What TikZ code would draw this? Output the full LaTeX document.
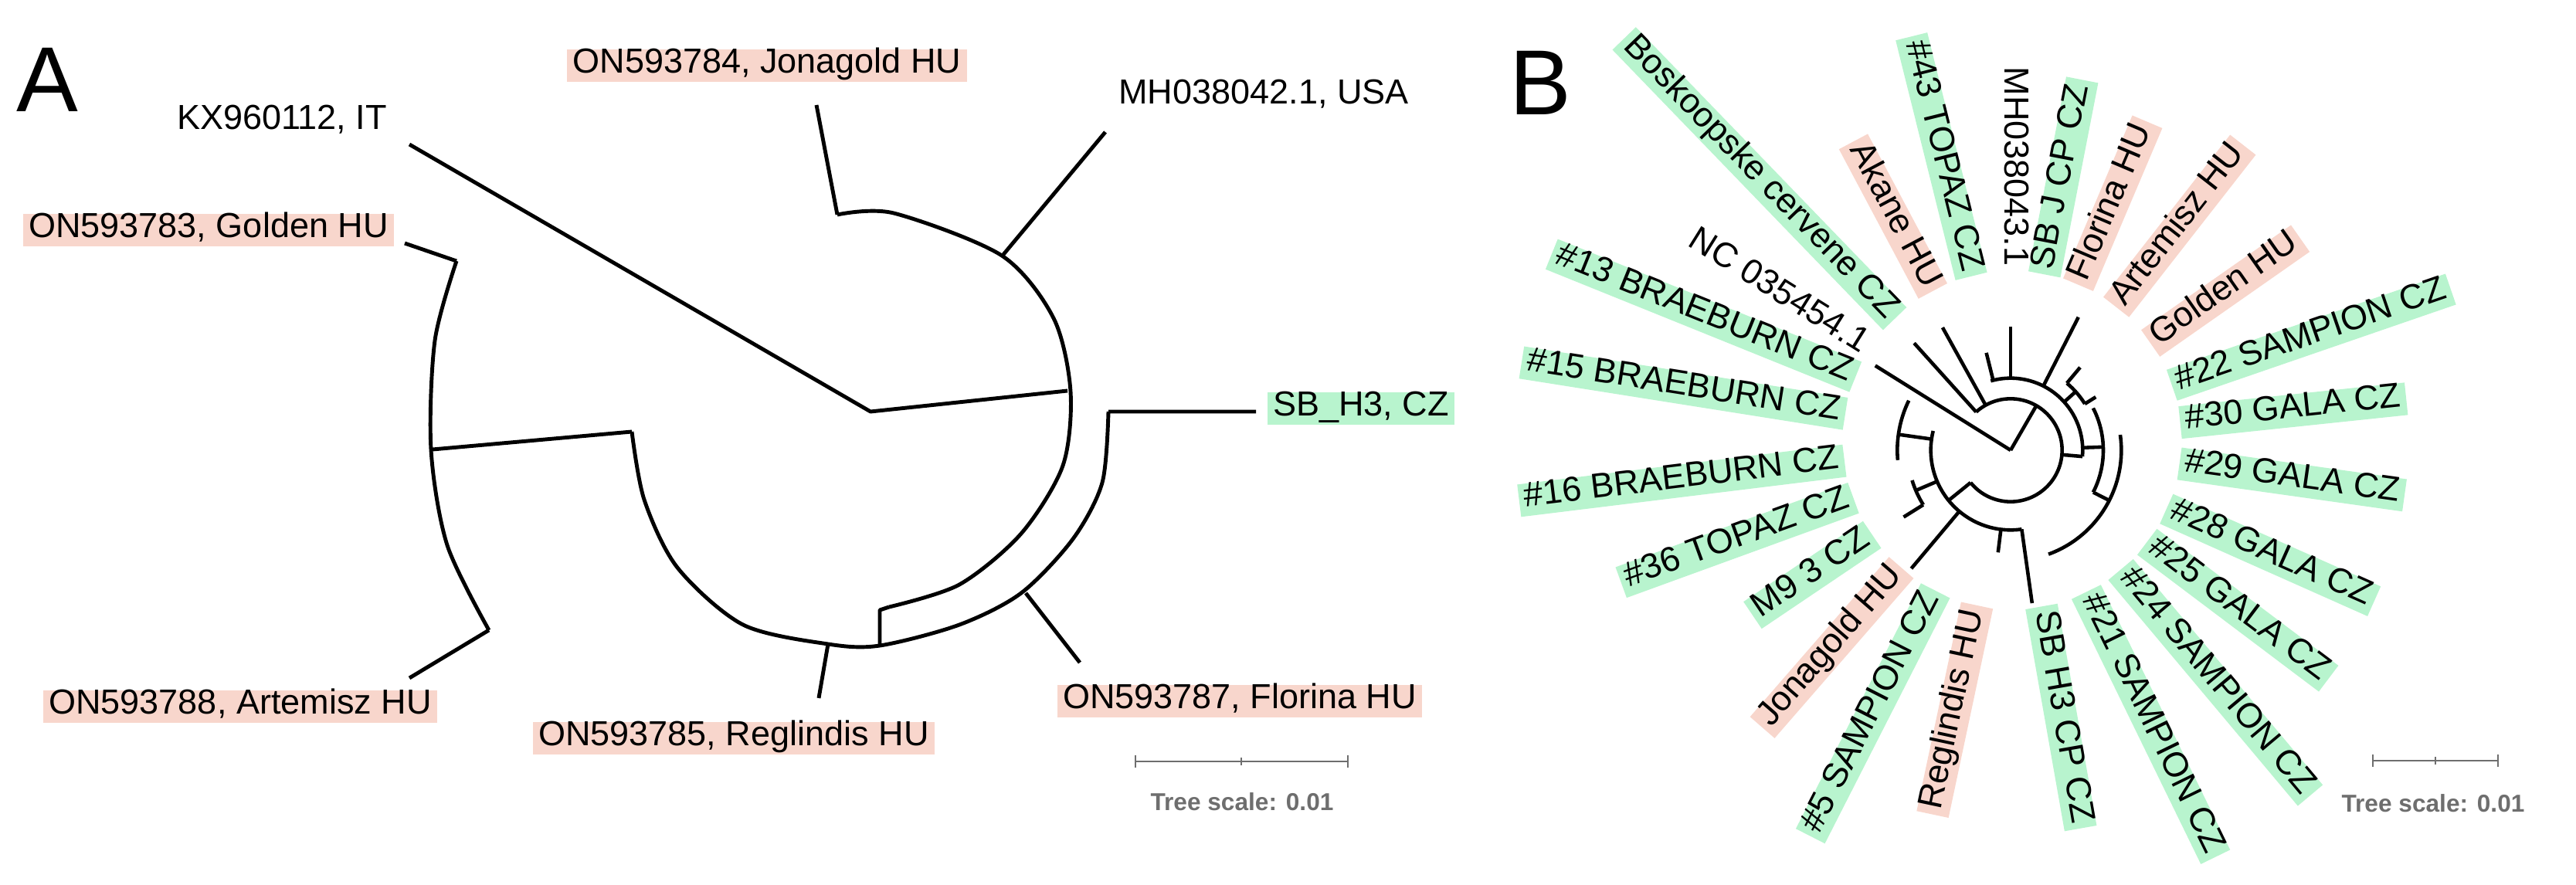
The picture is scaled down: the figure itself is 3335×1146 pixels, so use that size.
\documentclass[tikz,border=0pt]{standalone}
\usepackage{fontspec}
\setmainfont{Liberation Sans}
\definecolor{pk}{RGB}{248,214,204}
\definecolor{gr}{RGB}{184,244,206}
\definecolor{sc}{RGB}{110,110,110}
\begin{document}
\begin{tikzpicture}[x=0.01cm,y=-0.01cm,
  br/.style={line width=1.4pt,line join=round},
  lab/.style={font=\fontsize{12.8}{14}\selectfont,inner xsep=2pt,inner ysep=1.2pt,text height=0.74em,text depth=0.22em},
  P/.style={lab,fill=pk},G/.style={lab,fill=gr},N/.style={lab},
  R/.style={anchor=west,rotate=#1},L/.style={anchor=east,rotate=#1},
  big/.style={font=\fontsize{34}{36}\selectfont,inner sep=0pt},
  ts/.style={font=\fontsize{9}{10}\selectfont\bfseries,text=sc}]
\useasboundingbox (0,0) rectangle (3335,1146);
% ---------- Panel A ----------
\node[big] (A) at (61,103) {A};
\draw[br] (530,187) -- (1127,533) -- (1382,506);
\draw[br] (1057,136) -- (1084,278) plot[smooth] coordinates {(1084,278) (1157,276) (1297,331) (1364,412) (1386,507) (1376,603) (1322,691) (1242,757) (1151,786)};
\draw[br] (1151,786) -- (1139,790) -- (1139,834);
\draw[br] (1431,171) -- (1297,332);
\draw[br] (1626,533) -- (1435,533) plot[smooth] coordinates {(1435,533) (1427,625) (1389,698) (1322,768) (1242,809) (1139,836) (1072,834) (962,809) (877,735) (834,647) (818,559)};
\draw[br] (818,559) -- (560,582);
\draw[br] (1328,768) -- (1398,858);
\draw[br] (1072,834) -- (1060,904);
\draw[br] (524,315) -- (591,338) plot[smooth] coordinates {(591,338) (563,441) (558,582) (579,706) (633,816)};
\draw[br] (633,816) -- (530,878);
\node[P] (a1) at (993,85) {ON593784, Jonagold HU};
\node[N] (a2) at (1636,125) {MH038042.1, USA};
\node[N] (a3) at (365,158) {KX960112, IT};
\node[P] (a4) at (270,298) {ON593783, Golden HU};
\node[G] (a5) at (1762,529) {SB\_H3, CZ};
\node[P] (a6) at (311,915) {ON593788, Artemisz HU};
\node[P] (a7) at (950,956) {ON593785, Reglindis HU};
\node[P] (a8) at (1605,908) {ON593787, Florina HU};
\coordinate (sa1) at (1470,986); \coordinate (sa2) at (1745,986);
\draw[sc,line width=0.8pt] (sa1) -- (sa2);
\draw[sc,line width=0.8pt] (1470,978) -- (1470,994) (1607,981) -- (1607,991) (1745,978) -- (1745,994);
\node[ts] (tsa) at (1608,1038) {Tree scale: 0.01};
% ---------- Panel B ----------
\node[big] (B) at (1994,107) {B};
\begin{scope}[shift={(2603,583)},yscale=-1,scale=1/3,br/.style={line width=1.3pt,line join=round}]
\draw[br] (0,0) -- (148:620);
\draw[br] (0,0) -- (60:200);
\draw[br] (132:200) arc[start angle=132,end angle=-141,radius=200];
\draw[br] (132:200) -- (132:560);
\draw[br] (119:200) -- (119:545);
\draw[br] (-5:200) -- (-5:280);
\draw[br] (106:280) arc[start angle=106,end angle=-5,radius=280];
\draw[br] (104:280) -- (104:390);
\draw[br] (90:280) -- (90:480);
\draw[br] (63:280) -- (63:580);
\draw[br] (42:280) -- (42:340);
\draw[br] (50:340) arc[start angle=50,end angle=32,radius=340];
\draw[br] (50:340) -- (50:420);
\draw[br] (32:340) -- (32:390);
\draw[br] (2:280) -- (2:360);
\draw[br] (27:360) arc[start angle=27,end angle=-27,radius=360];
\draw[br] (-27:360) -- (-27:430);
\draw[br] (8:430) arc[start angle=8,end angle=-70,radius=430];
\draw[br] (-141:200) -- (-141:310);
\draw[br] (166:310) arc[start angle=166,end angle=278,radius=310];
\draw[br] (230:310) -- (230:600);
\draw[br] (263:310) -- (263:400);
\draw[br] (278:310) -- (278:600);
\draw[br] (172:310) -- (172:440);
\draw[br] (154:440) arc[start angle=154,end angle=185,radius=440];
\draw[br] (203:310) -- (203:400);
\draw[br] (197:400) arc[start angle=197,end angle=212,radius=400];
\draw[br] (212:400) -- (212:490);
\end{scope}
\begin{scope}[shift={(2605,570)},yscale=-1]
\node[N,L=-90] (b1) at (90:218) {MH038043.1};
\node[G,R=79] (b2) at (79:218) {SB J CP CZ};
\node[P,R=67] (b3) at (67:218) {Florina HU};
\node[P,R=52] (b4) at (52:218) {Artemisz HU};
\node[P,R=35] (b5) at (35:218) {Golden HU};
\node[G,R=19] (b6) at (19:218) {\#22 SAMPION CZ};
\node[G,R=6] (b7) at (6:218) {\#30 GALA CZ};
\node[G,R=-8] (b8) at (-8:218) {\#29 GALA CZ};
\node[G,R=-24] (b9) at (-24:218) {\#28 GALA CZ};
\node[G,R=-37] (b10) at (-37:218) {\#25 GALA CZ};
\node[G,R=-50] (b11) at (-50:218) {\#24 SAMPION CZ};
\node[G,R=-64] (b12) at (-64:218) {\#21 SAMPION CZ};
\node[G,R=-80] (b13) at (-80:218) {SB H3 CP CZ};
\node[P,L=78] (b14) at (-102:218) {Reglindis HU};
\node[G,L=63] (b15) at (-117:218) {\#5 SAMPION CZ};
\node[P,L=49] (b16) at (-131:218) {Jonagold HU};
\node[G,L=34] (b17) at (-146:218) {M9 3 CZ};
\node[G,L=20] (b18) at (-160:218) {\#36 TOPAZ CZ};
\node[G,L=7] (b19) at (-173:218) {\#16 BRAEBURN CZ};
\node[G,L=-9] (b20) at (171:218) {\#15 BRAEBURN CZ};
\node[G,L=-22] (b21) at (158:218) {\#13 BRAEBURN CZ};
\node[N,L=-32] (b22) at (148:218) {NC 035454.1};
\node[G,L=-46] (b23) at (134:218) {Boskoopske cervene CZ};
\node[P,L=-62] (b24) at (118:218) {Akane HU};
\node[G,L=-76] (b25) at (104:218) {\#43 TOPAZ CZ};
\end{scope}
\coordinate (sb1) at (3072,985); \coordinate (sb2) at (3234,985);
\draw[sc,line width=0.8pt] (sb1) -- (sb2);
\draw[sc,line width=0.8pt] (3072,977) -- (3072,993) (3153,980) -- (3153,990) (3234,977) -- (3234,993);
\node[ts] (tsb) at (3150,1040) {Tree scale: 0.01};
\end{tikzpicture}
\end{document}
